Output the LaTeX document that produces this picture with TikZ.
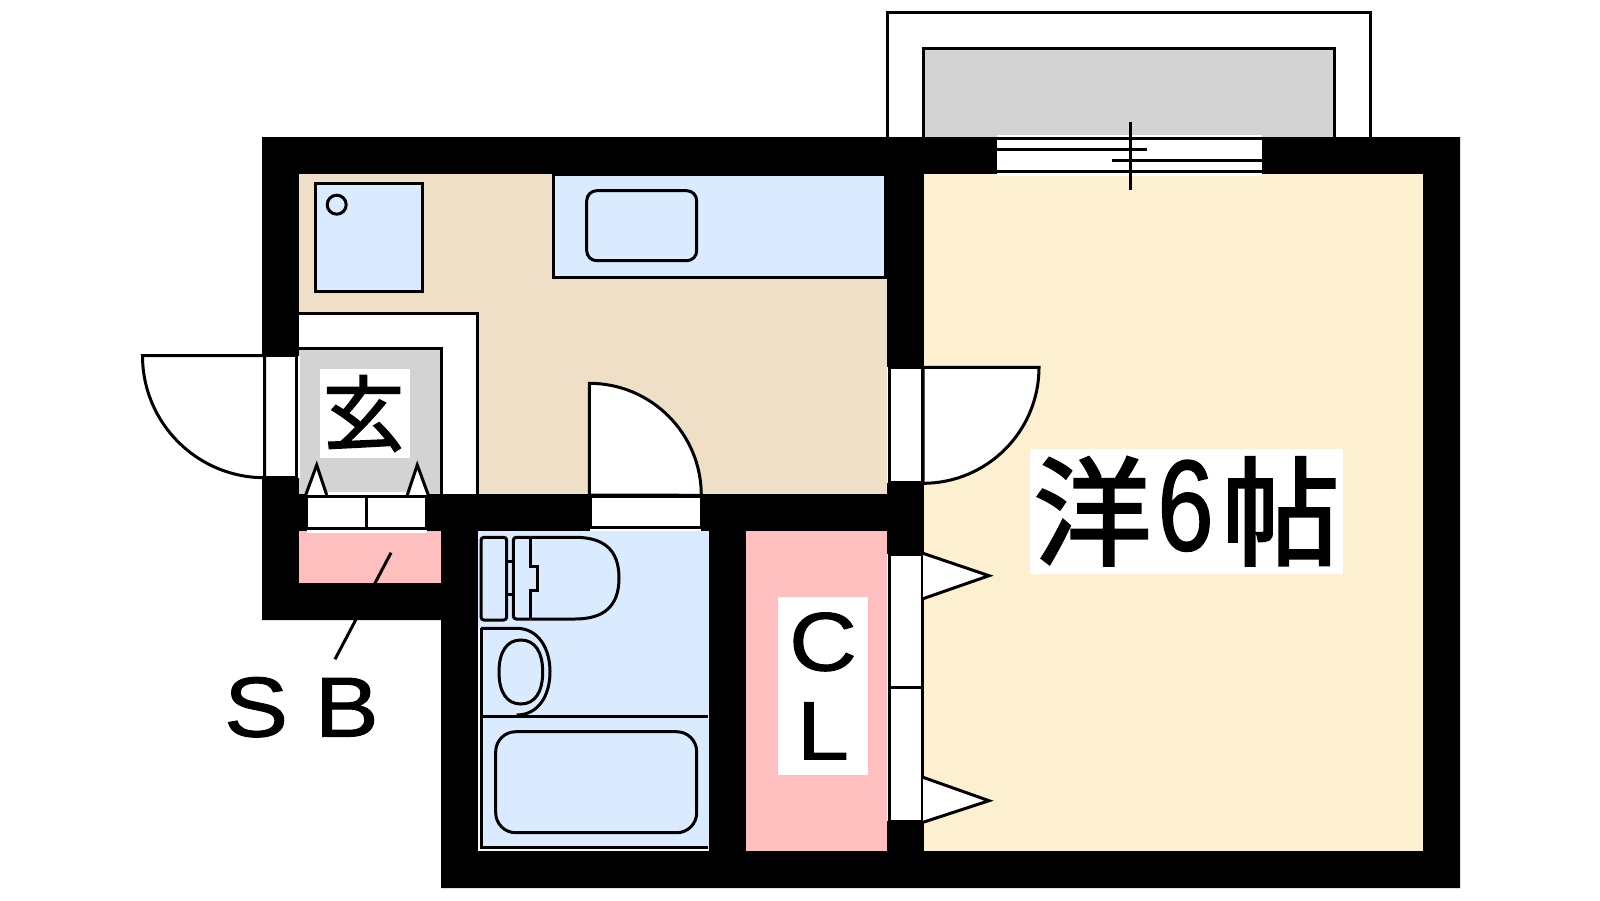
\documentclass[tikz,border=0pt]{standalone}
\usepackage{fontspec}
\setmainfont{Liberation Sans}
\newfontfamily\cjk[FakeBold=2.2]{Noto Sans CJK JP}
\newfontfamily\cjksmall[FakeBold=1.8]{Noto Sans CJK JP}
\newfontfamily\widesans[FakeStretch=1.13,FakeBold=1.2]{Liberation Sans}
\newfontfamily\narrowsans[FakeStretch=0.78,FakeBold=1.2]{Liberation Sans}
\definecolor{wetblue}{HTML}{DBEBFF}
\definecolor{closetpink}{HTML}{FFBFBF}
\definecolor{kitchenbeige}{HTML}{EFDFC7}
\definecolor{roomcream}{HTML}{FDF0D1}
\definecolor{floorgray}{HTML}{D3D3D3}
\tikzset{
  plan/.style={draw=black,line width=3pt,line join=miter},
  whitepart/.style={plan,fill=white},
  bluepart/.style={plan,fill=wetblue},
  graypart/.style={plan,fill=floorgray},
  labelbox/.style={fill=white,inner sep=0pt,outer sep=0pt,anchor=center,align=center},
  plaintext/.style={inner sep=0pt,outer sep=0pt,anchor=base},
}
\begin{document}
\begin{tikzpicture}[x=1pt,y=-1pt]
\useasboundingbox (0,0) rectangle (1600,900);
\fill[white] (0,0) rectangle (1600,900);
% balcony
\draw[whitepart] (887,140) -- (887,12) -- (1370.7,12) -- (1370.7,140);
\draw[graypart] (923.6,140) -- (923.6,48.3) -- (1334.7,48.3) -- (1334.7,140);
% walls
\fill[black] (262,137) -- (1460,137) -- (1460,888) -- (441,888) -- (441,620) -- (262,620) -- cycle;
% rooms
\fill[kitchenbeige] (299,174) rectangle (887,494);
\fill[roomcream] (924,174) rectangle (1422.7,851);
\fill[closetpink] (746,531) rectangle (887,851);
\fill[closetpink] (299,531) rectangle (441,582.7);
\fill[wetblue] (478.3,531) rectangle (709,850.7);
\fill[wetblue!35] (478.3,628) rectangle (480,850.7);
\fill[wetblue!35] (478.3,848.5) rectangle (709,850.7);
% entrance floor
\draw[whitepart] (299,313.3) -- (477.7,313.3) -- (477.7,495) -- (299,495);
\draw[graypart] (299,348.3) -- (441.7,348.3) -- (441.7,495) -- (299,495);
% washing machine pan
\draw[bluepart] (315.3,183) rectangle (422,291);
\draw[plan] (336.7,204.7) circle[radius=9.5];
% kitchen counter
\draw[bluepart] (553.3,174) rectangle (885.5,277.3);
\draw[plan,rounded corners=10pt] (586.7,190.7) rectangle (696.7,260.7);
% entrance door
\fill[white] (264,356) rectangle (300,478);
\draw[whitepart] (264.3,355.7) rectangle (296.7,477.7);
\draw[whitepart] (264.5,355.7) -- (142.5,355.7) arc[start angle=180,end angle=90,radius=122] -- cycle;
% shoe cupboard doors
\fill[white] (306.7,492) rectangle (426.7,532.5);
\draw[whitepart] (305.7,495) -- (316.7,465) -- (326.7,495);
\draw[whitepart] (407.3,495) -- (417.3,465) -- (428.3,495);
\draw[whitepart] (306.7,496) rectangle (366.7,528.3);
\draw[whitepart] (366.7,496) rectangle (426.7,528.3);
% inner door
\fill[white] (590,494) rectangle (701,531);
\draw[whitepart] (590,496) rectangle (701,527.7);
\draw[whitepart] (589.3,495) -- (589.3,383.3) arc[start angle=-90,end angle=0,radius=112] -- cycle;
% room door
\fill[white] (887,367.3) rectangle (923,482.7);
\draw[whitepart] (889.5,367.3) rectangle (922.5,482.7);
\draw[whitepart] (923,367.3) -- (1039,367.3) arc[start angle=0,end angle=90,radius=116] -- cycle;
% closet doors
\fill[white] (887,554.3) rectangle (923,821);
\draw[whitepart] (889.7,554.3) rectangle (922.7,687.3);
\draw[whitepart] (889.7,687.3) rectangle (922.7,821);
\draw[whitepart] (923,553.3) -- (989,575.7) -- (923,598.7);
\draw[whitepart] (923,777.3) -- (989,800.7) -- (923,822.3);
% window
\fill[white] (997,135) rectangle (1262,176);
\draw[plan] (997,138.7) -- (1262,138.7);
\draw[plan] (997,171.5) -- (1262,171.5);
\draw[plan] (997,149.7) -- (1147,149.7);
\draw[plan] (1111.5,160.3) -- (1262,160.3);
\draw[plan] (1130,121.7) -- (1130,189.7);
% bath unit
\draw[plan] (481,628.3) -- (481,847.3) -- (708,847.3);
\draw[plan] (481,716) -- (708,716);
\draw[plan,rounded corners=20pt] (495.7,731.7) rectangle (696.7,832.7);
\draw[plan] (481,628.3) -- (516.7,628.3) .. controls (538,628.3) and (550,648) .. (550,671.7) .. controls (550,696) and (538,715) .. (516.7,715);
\draw[plan] (520.85,640) .. controls (535,640) and (542.7,652) .. (542.7,672) .. controls (542.7,692) and (535,704) .. (520.85,704) .. controls (506.7,704) and (499,692) .. (499,672) .. controls (499,652) and (506.7,640) .. (520.85,640) -- cycle;
% toilet
\draw[plan,rounded corners=3pt] (481,537.3) rectangle (506.7,620);
\draw[plan] (506.7,561.7) -- (513.3,561.7);
\draw[plan] (506.7,594) -- (513.3,594);
\draw[plan,rounded corners=3pt] (530.7,537.3) -- (513.3,537.3) -- (513.3,619) -- (530.7,619);
\draw[plan] (530.7,537.3) -- (530.7,566) -- (537.3,566) -- (537.3,590) -- (530.7,590) -- (530.7,619);
\draw[plan] (530.7,537.3) -- (575,537.3) .. controls (604,537.3) and (619,550) .. (619,578) .. controls (619,606) and (604,619) .. (575,619) -- (530.7,619);
% texts
\node[labelbox,minimum width=90pt,minimum height=89pt] (genkan) at (365,413.5) {\fontsize{82}{82}\cjksmall\raisebox{-1pt}{\kern-3pt 玄}};
\node[labelbox,minimum width=90pt,minimum height=178pt,font=\fontsize{83}{89}\widesans] (cl) at (823,686) {C\\L};
\node[labelbox,minimum width=313pt,minimum height=124.7pt] (westernroom) at (1186.5,511.3) {\fontsize{118}{118}\cjk\raisebox{-6pt}{洋}\kern 6pt{\fontsize{129}{129}\narrowsans 6}\kern 8pt\raisebox{-6pt}{帖}};
\node[plaintext] (sb) at (301.5,736.5) {\fontsize{85}{85}\widesans S B};
% leader
\coordinate (leaderin) at (391,552.7);
\coordinate (leaderout) at (335,659.3);
\draw[plan] (leaderin) -- (leaderout);
\end{tikzpicture}
\end{document}
